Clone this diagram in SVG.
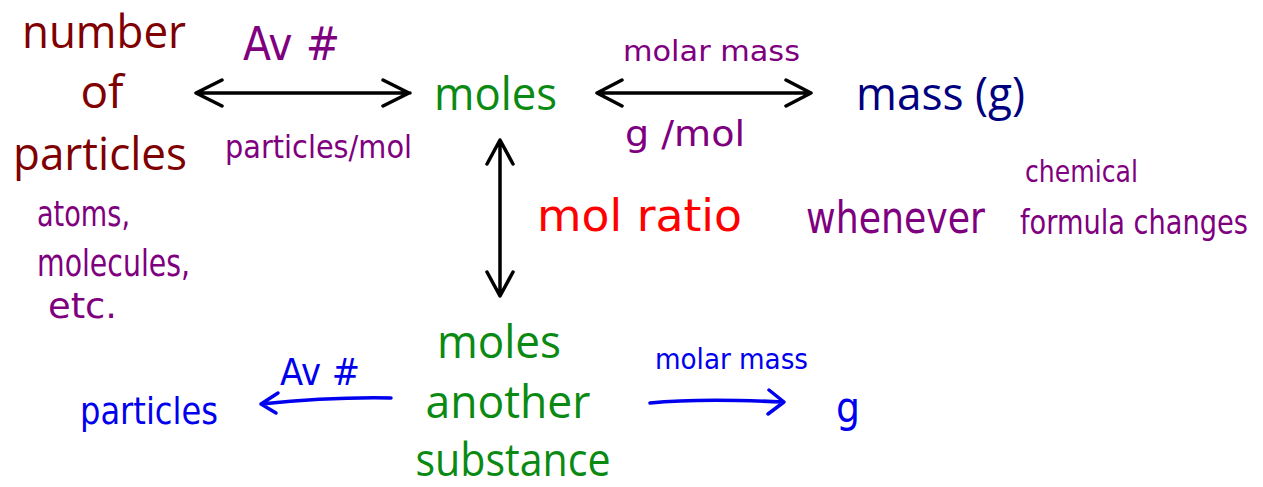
<svg xmlns="http://www.w3.org/2000/svg" width="1263" height="487" viewBox="0 0 1263 487">
<style>
.t{font-family:"Open Sans","Noto Sans","Liberation Sans",sans-serif;font-size:46px;}
.h{font-family:"DejaVu Sans Condensed","DejaVu Sans",sans-serif;}
.red{fill:#7f0000}
.grn{fill:#0a8a12}
.nav{fill:#00007f}
.pur{fill:#7f007f}
.rd{fill:#ff0000}
.blu{fill:#0000ee}
.ar{fill:none;stroke:#000;stroke-width:3.5;stroke-linecap:round;stroke-linejoin:round}
.ab{fill:none;stroke:#0000ee;stroke-width:3.5;stroke-linecap:round;stroke-linejoin:round}
</style>
<rect width="1263" height="487" fill="#fff"/>
<g id="connectors">
<path class="ar" d="M196,93 H410 M222,80 L196,93 L222,106 M383,80 L409,93 L383,106"/>
<path class="ar" d="M597,93 H811 M622,80 L597,93 L622,106 M786,80 L811,93 L786,106"/>
<path class="ar" d="M500,140 V296 M487,164 L500,140 L513,164 M487,272 L500,296 L513,272"/>
<path class="ab" d="M391,398 C340,397 300,400 261,404 M278,393 L261,404 L276,413"/>
<path class="ab" d="M650,403 C690,399 740,400 784,402 M769,390 L784,402 L768,414"/>
</g>
<g id="number-of-particles">
<text class="t red" x="104" y="48" text-anchor="middle" textLength="164" lengthAdjust="spacingAndGlyphs">number</text>
<text class="t red" x="102" y="108" text-anchor="middle">of</text>
<text class="t red" x="100" y="170" text-anchor="middle" textLength="174" lengthAdjust="spacingAndGlyphs">particles</text>
</g>
<g id="moles"><text class="t grn" x="434" y="110" textLength="123" lengthAdjust="spacingAndGlyphs">moles</text></g>
<g id="mass"><text class="t nav" x="856" y="110" textLength="169" lengthAdjust="spacingAndGlyphs">mass (g)</text></g>
<g id="moles-another-substance">
<text class="t grn" x="499" y="358" text-anchor="middle" textLength="124" lengthAdjust="spacingAndGlyphs">moles</text>
<text class="t grn" x="508" y="418" text-anchor="middle" font-size="44" textLength="165" lengthAdjust="spacingAndGlyphs">another</text>
<text class="t grn" x="513" y="476" text-anchor="middle" font-size="42" textLength="195" lengthAdjust="spacingAndGlyphs">substance</text>
</g>
<g id="labels">
<text class="h pur" x="243" y="60" font-size="46" textLength="97" lengthAdjust="spacingAndGlyphs">Av #</text>
<text class="h pur" x="225" y="158" font-size="32" textLength="187" lengthAdjust="spacingAndGlyphs">particles/mol</text>
<text class="h pur" x="623" y="61" font-size="28" textLength="177" lengthAdjust="spacingAndGlyphs">molar mass</text>
<text class="h pur" x="625" y="146" font-size="36" textLength="120" lengthAdjust="spacingAndGlyphs">g /mol</text>
<text class="h rd" x="537" y="231" font-size="44" textLength="205" lengthAdjust="spacingAndGlyphs">mol ratio</text>
<text class="h pur" x="806" y="233" font-size="44" textLength="179" lengthAdjust="spacingAndGlyphs">whenever</text>
<text class="h pur" x="1025" y="182" font-size="30" textLength="113" lengthAdjust="spacingAndGlyphs">chemical</text>
<text class="h pur" x="1020" y="234" font-size="34" textLength="228" lengthAdjust="spacingAndGlyphs">formula changes</text>
<text class="h pur" x="37" y="226" font-size="36" textLength="93" lengthAdjust="spacingAndGlyphs">atoms,</text>
<text class="h pur" x="37" y="276" font-size="38" textLength="153" lengthAdjust="spacingAndGlyphs">molecules,</text>
<text class="h pur" x="48" y="318" font-size="36" textLength="69" lengthAdjust="spacingAndGlyphs">etc.</text>
<text class="h blu" x="80" y="424" font-size="38" textLength="138" lengthAdjust="spacingAndGlyphs">particles</text>
<text class="h blu" x="280" y="385" font-size="38" textLength="80" lengthAdjust="spacingAndGlyphs">Av #</text>
<text class="h blu" x="655" y="369" font-size="28" textLength="153" lengthAdjust="spacingAndGlyphs">molar mass</text>
<text class="h blu" x="836" y="422" font-size="42">g</text>
</g>
</svg>
